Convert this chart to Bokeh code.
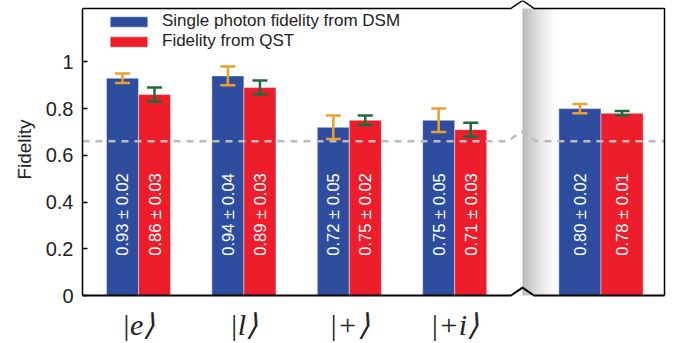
import numpy as np
from bokeh.plotting import figure
from bokeh.models import (Range1d, FixedTicker, ColumnDataSource, Whisker, TeeHead,
                          Legend, LegendItem, Label)
from bokeh.core.properties import value
from bokeh.embed import file_html
from bokeh.resources import INLINE

# ---------------- data ----------------
states = ["|e⟩", "|l⟩", "|+⟩", "|+i⟩"]
average_label = "Average"
series_names = ["Single photon fidelity from DSM", "Fidelity from QST"]
dsm_fidelity = [0.93, 0.94, 0.72, 0.75]
dsm_error = [0.02, 0.04, 0.05, 0.05]
qst_fidelity = [0.86, 0.89, 0.75, 0.71]
qst_error = [0.03, 0.03, 0.02, 0.03]
dsm_average = 0.80
dsm_average_error = 0.02
qst_average = 0.78
qst_average_error = 0.01
threshold = 0.66
y_ticks = [0, 0.2, 0.4, 0.6, 0.8, 1.0]
y_tick_labels = ["0", "0.2", "0.4", "0.6", "0.8", "1"]
y_label = "Fidelity"

# ---------------- layout / style ----------------
BLUE, RED = "#2E4D9F", "#EE1D2B"
ORANGE, GREEN = "#E9A02F", "#1C6B38"
FRAME_W, FRAME_H = 586, 301
PX_X, PX_Y = 105.4, 236.0
x_start = -56 / PX_X
x_end = x_start + FRAME_W / PX_X
y_start = -3 / PX_Y
y_end = y_start + FRAME_H / PX_Y
top_y = 290 / PX_Y
right_x = x_start + 582 / PX_X
avg_pos = 4.388
bar_w = 0.304
avg_bar_w = 0.40
break_x = x_start + 440 / PX_X
bh = 11.5 / PX_X      # half width of break notch
bv = 8 / PX_Y         # height of break notch
label_y = 0.347
SANS = "Liberation Sans"

group_pos = list(range(len(states)))
centers = group_pos + [avg_pos]
widths = [bar_w] * len(states) + [avg_bar_w]
dsm_all = dsm_fidelity + [dsm_average]
dsm_err_all = dsm_error + [dsm_average_error]
qst_all = qst_fidelity + [qst_average]
qst_err_all = qst_error + [qst_average_error]

blue_src = ColumnDataSource(dict(
    x=[c - w / 2 for c, w in zip(centers, widths)], w=widths, top=dsm_all,
    upper=[v + e for v, e in zip(dsm_all, dsm_err_all)],
    lower=[v - e for v, e in zip(dsm_all, dsm_err_all)],
    ly=[label_y] * len(centers),
    txt=[f"{v:.2f} ± {e:.2f}" for v, e in zip(dsm_all, dsm_err_all)]))
red_src = ColumnDataSource(dict(
    x=[c + w / 2 for c, w in zip(centers, widths)], w=widths, top=qst_all,
    upper=[v + e for v, e in zip(qst_all, qst_err_all)],
    lower=[v - e for v, e in zip(qst_all, qst_err_all)],
    ly=[label_y] * len(centers),
    txt=[f"{v:.2f} ± {e:.2f}" for v, e in zip(qst_all, qst_err_all)]))

p = figure(width=675, height=343, x_range=Range1d(x_start, x_end),
           y_range=Range1d(y_start, y_end), output_backend="svg",
           toolbar_location=None, title=None, min_border_left=82,
           min_border_right=675 - 82 - FRAME_W, min_border_top=0,
           min_border_bottom=343 - FRAME_H)
p.xgrid.visible = False
p.ygrid.visible = False
p.outline_line_color = None
p.background_fill_color = "white"
p.border_fill_color = "white"

# broken-axis shading band
N = 24
band_w = 36 / PX_X
for i in range(N):
    a = 0.6 * (1 - i / N) ** 1.5
    p.quad(left=break_x + i * band_w / N, right=break_x + (i + 1) * band_w / N,
           bottom=0, top=top_y, fill_color="#888888", fill_alpha=a, line_color=None)

# bars
blue_r = p.vbar(x="x", width="w", top="top", bottom=0, source=blue_src,
                fill_color=BLUE, line_color="white", line_alpha=0.45, line_width=1)
red_r = p.vbar(x="x", width="w", top="top", bottom=0, source=red_src,
               fill_color=RED, line_color="white", line_alpha=0.45, line_width=1)

# value labels inside bars
for src in (blue_src, red_src):
    p.text(x="x", y="ly", text="txt", source=src, angle=np.pi / 2,
           text_align="center", text_baseline="middle", text_color="white",
           text_font=value(SANS), text_font_size="16.5px")

# dashed threshold line with a kink at the break
dx = 1 / PX_X
dy = 1 / PX_Y
p.line(x=[x_start, break_x - 15 * dx, break_x - 1 * dx, break_x + 14 * dx, right_x],
       y=[threshold, threshold, threshold + 10 * dy, threshold, threshold],
       line_color="#BBBBBB", line_width=2.5, line_dash="7 6")

# error bars
for src, col in ((blue_src, ORANGE), (red_src, GREEN)):
    wk = Whisker(base="x", upper="upper", lower="lower", source=src,
                 line_color=col, line_width=2.5, level="overlay",
                 upper_head=TeeHead(size=15, line_color=col, line_width=2.5),
                 lower_head=TeeHead(size=15, line_color=col, line_width=2.5))
    p.add_layout(wk)

# frame with break marks
p.line(x=[x_start, break_x - bh, break_x, break_x + bh, right_x, right_x],
       y=[top_y, top_y, top_y + bv, top_y, top_y, 0],
       line_color="black", line_width=1.5)
p.line(x=[x_start, break_x - bh, break_x, break_x + bh, right_x],
       y=[0, 0, bv, 0, 0], line_color="black", line_width=2)

# axes
ya = p.yaxis[0]
ya.ticker = FixedTicker(ticks=y_ticks)
ya.major_label_overrides = {t: l for t, l in zip(y_ticks, y_tick_labels)}
ya.bounds = (0, top_y)
ya.axis_line_width = 1.5
ya.axis_line_color = "black"
ya.major_tick_in = 5
ya.major_tick_out = 0
ya.major_tick_line_width = 1.5
ya.minor_tick_line_color = None
ya.major_label_standoff = 9
ya.major_label_text_font = SANS
ya.major_label_text_font_size = "20px"
ya.major_label_text_color = "#222222"
ya.axis_label = y_label
ya.axis_label_text_font = SANS
ya.axis_label_text_font_size = "19px"
ya.axis_label_text_font_style = "normal"
ya.axis_label_text_color = "#222222"
ya.axis_label_standoff = 8

xa = p.xaxis[0]
xa.ticker = FixedTicker(ticks=group_pos)
xa.major_label_overrides = {g: s for g, s in zip(group_pos, states)}
xa.axis_line_color = None
xa.major_tick_line_color = None
xa.minor_tick_line_color = None
xa.major_label_standoff = 3
xa.major_label_text_font = "Liberation Serif"
xa.major_label_text_font_style = "italic"
xa.major_label_text_font_size = "30px"
xa.major_label_text_color = "#222222"

p.add_layout(Label(x=avg_pos, y=-0.115, text=average_label, text_align="center",
                   text_baseline="middle", text_font=SANS, text_font_size="19px",
                   text_color="#222222"))

legend = Legend(items=[LegendItem(label=series_names[0], renderers=[blue_r]),
                       LegendItem(label=series_names[1], renderers=[red_r])],
                location=(23, 247), padding=0, margin=0, spacing=0,
                glyph_width=47, glyph_height=13, label_height=20,
                label_standoff=10, label_text_font=SANS,
                label_text_font_size="17px", label_text_color="#222222",
                border_line_color=None, background_fill_alpha=0)
p.add_layout(legend)

open("out.html", "w").write(file_html(p, INLINE))
